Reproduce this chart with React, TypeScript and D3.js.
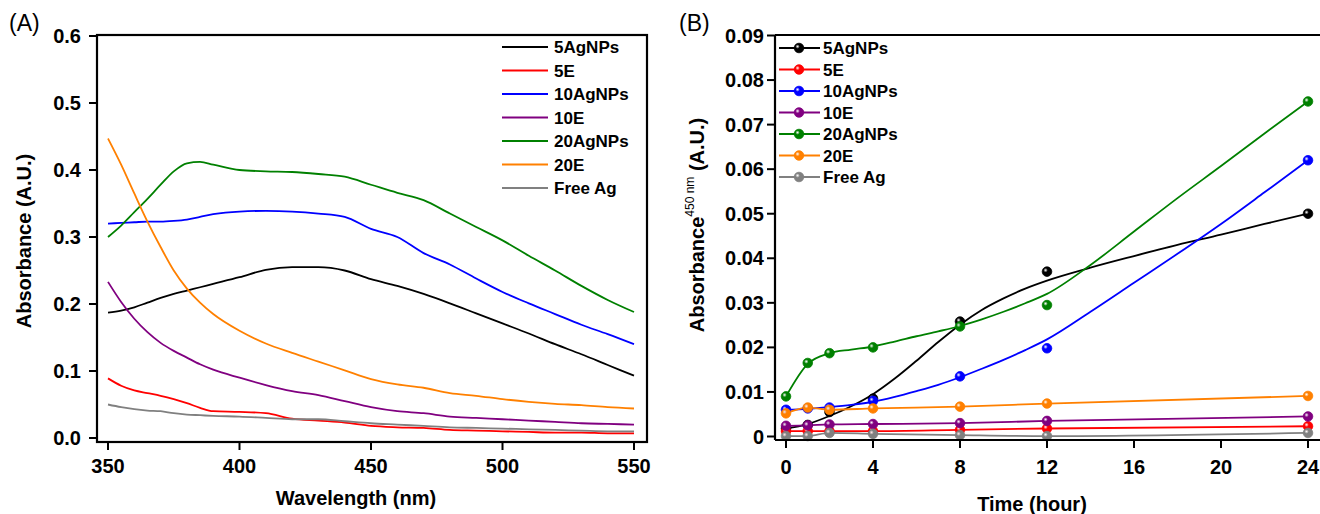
import React from 'react';
import * as d3 from 'd3';

// ---- panel A: UV-vis spectra ----
const wavelengths = [350, 355, 360, 365, 370, 375, 380, 385, 390, 400, 410, 420, 430, 440, 450, 460, 470, 480, 490, 500, 510, 520, 530, 540, 550];

const spec5Ag = [0.187, 0.19, 0.195, 0.202, 0.209, 0.215, 0.22, 0.225, 0.23, 0.24, 0.251, 0.255, 0.255, 0.25, 0.237, 0.227, 0.215, 0.201, 0.186, 0.171, 0.156, 0.14, 0.125, 0.109, 0.093];
const spec5E = [0.089, 0.078, 0.071, 0.067, 0.063, 0.058, 0.052, 0.045, 0.04, 0.039, 0.037, 0.029, 0.026, 0.023, 0.018, 0.016, 0.015, 0.012, 0.011, 0.01, 0.009, 0.008, 0.008, 0.007, 0.007];
const spec10Ag = [0.32, 0.321, 0.322, 0.323, 0.323, 0.324, 0.326, 0.33, 0.334, 0.338, 0.339, 0.338, 0.335, 0.33, 0.312, 0.3, 0.276, 0.259, 0.238, 0.218, 0.201, 0.185, 0.169, 0.155, 0.14];
const spec10E = [0.233, 0.203, 0.178, 0.158, 0.142, 0.13, 0.12, 0.11, 0.102, 0.09, 0.079, 0.07, 0.064, 0.055, 0.046, 0.04, 0.037, 0.032, 0.03, 0.028, 0.026, 0.024, 0.022, 0.021, 0.02];
const spec20Ag = [0.3, 0.317, 0.337, 0.357, 0.378, 0.398, 0.41, 0.412, 0.408, 0.4, 0.398, 0.397, 0.394, 0.39, 0.378, 0.366, 0.355, 0.335, 0.315, 0.295, 0.272, 0.25, 0.227, 0.206, 0.188];
const spec20E = [0.447, 0.408, 0.365, 0.323, 0.285, 0.25, 0.223, 0.202, 0.185, 0.16, 0.141, 0.127, 0.114, 0.101, 0.088, 0.08, 0.075, 0.067, 0.063, 0.058, 0.054, 0.051, 0.049, 0.046, 0.044];
const specFree = [0.05, 0.046, 0.043, 0.041, 0.04, 0.037, 0.035, 0.034, 0.033, 0.032, 0.03, 0.028, 0.028, 0.025, 0.022, 0.02, 0.018, 0.016, 0.015, 0.014, 0.013, 0.012, 0.011, 0.01, 0.01];

// ---- panel B: absorbance at 450 nm vs time ----
const hours = [0, 1, 2, 4, 8, 12, 24];
const pts5Ag = [0.0018, 0.0026, 0.0055, 0.0085, 0.0258, 0.037, 0.05];
const pts5E = [0.0012, 0.0012, 0.0012, 0.0012, 0.0015, 0.0018, 0.0023];
const pts10Ag = [0.006, 0.0063, 0.0065, 0.008, 0.0135, 0.0198, 0.062];
const pts10E = [0.0024, 0.0025, 0.0027, 0.0028, 0.003, 0.0035, 0.0045];
const pts20Ag = [0.009, 0.0165, 0.0187, 0.02, 0.0247, 0.0295, 0.0752];
const pts20E = [0.0052, 0.0065, 0.006, 0.0063, 0.0067, 0.0074, 0.0091];
const ptsFree = [0.0001, 0.0001, 0.0008, 0.0006, 0.0003, 0.0001, 0.0008];

// smooth fitted curves for the AgNPs series
const fitHours = [0, 1, 2, 3, 4, 5, 6, 7, 8, 9, 10, 11, 12, 14, 16, 18, 20, 22, 24];
const fit5Ag = [0.0018, 0.0028, 0.0046, 0.0068, 0.0095, 0.013, 0.017, 0.0212, 0.0251, 0.0284, 0.031, 0.0332, 0.035, 0.0379, 0.0405, 0.043, 0.0453, 0.0477, 0.05];
const fit10Ag = [0.006, 0.0062, 0.0066, 0.0071, 0.0078, 0.0089, 0.0102, 0.0116, 0.0133, 0.0152, 0.0172, 0.0194, 0.0218, 0.028, 0.0345, 0.041, 0.0477, 0.0548, 0.062];
const fit20Ag = [0.009, 0.0163, 0.0187, 0.0195, 0.0202, 0.0213, 0.0225, 0.0236, 0.0248, 0.0263, 0.028, 0.0299, 0.032, 0.0385, 0.046, 0.0535, 0.0607, 0.068, 0.0752];

const names = ['5AgNPs', '5E', '10AgNPs', '10E', '20AgNPs', '20E', 'Free Ag'];
const colors = ['#000000', '#ff0000', '#0000ff', '#800080', '#008000', '#ff8000', '#808080'];
const spectra = [spec5Ag, spec5E, spec10Ag, spec10E, spec20Ag, spec20E, specFree];
const timePts = [pts5Ag, pts5E, pts10Ag, pts10E, pts20Ag, pts20E, ptsFree];
const fits: (number[] | null)[] = [fit5Ag, null, fit10Ag, null, fit20Ag, null, null];

const xTicksA = [350, 400, 450, 500, 550];
const yTicksA = [0, 0.1, 0.2, 0.3, 0.4, 0.5, 0.6];
const xTicksB = [0, 4, 8, 12, 16, 20, 24];
const yTicksB = [0, 0.01, 0.02, 0.03, 0.04, 0.05, 0.06, 0.07, 0.08, 0.09];

const FONT = '"Liberation Sans", Arial, sans-serif';

export default function App() {
  // panel A frame
  const aL = 97, aR = 647, aT = 35, aB = 442;
  const xA = d3.scaleLinear().domain([350, 550]).range([108, 634]);
  const yA = d3.scaleLinear().domain([0, 0.6]).range([438, 36]);
  // panel B frame
  const bL = 775, bR = 1330, bT = 35, bB = 440;
  const xB = d3.scaleLinear().domain([0, 24]).range([786, 1308]);
  const yB = d3.scaleLinear().domain([0, 0.09]).range([436.5, 35.5]);

  const lineA = d3.line<number>()
    .x((_, i) => xA(wavelengths[i]))
    .y((d) => yA(d))
    .curve(d3.curveMonotoneX);

  const lineB = (xs: number[]) =>
    d3.line<number>()
      .x((_, i) => xB(xs[i]))
      .y((d) => yB(d))
      .curve(d3.curveMonotoneX);

  const tickLen = 8;

  return (
    <svg width={1320} height={514} style={{ position: 'absolute', left: 0, top: 0, background: '#fff' }} fontFamily={FONT}>
      <defs>
        {colors.map((c, i) => (
          <radialGradient key={i} id={`ball${i}`} cx="35%" cy="35%" r="65%">
            <stop offset="0%" stopColor="#ffffff" stopOpacity={0.9} />
            <stop offset="35%" stopColor={c} />
            <stop offset="100%" stopColor={c} />
          </radialGradient>
        ))}
      </defs>

      {/* ===== Panel A ===== */}
      <text x={9} y={31} fontSize={23}>(A)</text>
      {spectra.map((s, i) => (
        <path key={i} d={lineA(s) || ''} fill="none" stroke={colors[i]} strokeWidth={1.8} />
      ))}
      <rect x={aL} y={aT} width={aR - aL} height={aB - aT} fill="none" stroke="#000" strokeWidth={2.2} />
      {xTicksA.map((t) => (
        <g key={t}>
          <line x1={xA(t)} x2={xA(t)} y1={aB} y2={aB + tickLen} stroke="#000" strokeWidth={2} />
          <text x={xA(t)} y={473} textAnchor="middle" fontSize={20} fontWeight="bold">{t}</text>
        </g>
      ))}
      {yTicksA.map((t) => (
        <g key={t}>
          <line x1={aL - tickLen} x2={aL} y1={yA(t)} y2={yA(t)} stroke="#000" strokeWidth={2} />
          <text x={81} y={yA(t) + 7} textAnchor="end" fontSize={20} fontWeight="bold">{d3.format('.1f')(t)}</text>
        </g>
      ))}
      <text x={356} y={505} textAnchor="middle" fontSize={20} fontWeight="bold">Wavelength (nm)</text>
      <text transform="translate(31,241) rotate(-90)" textAnchor="middle" fontSize={20} fontWeight="bold">Absorbance (A.U.)</text>
      {names.map((n, i) => {
        const y = 47 + i * 23.5;
        return (
          <g key={n}>
            <line x1={502} x2={548} y1={y} y2={y} stroke={colors[i]} strokeWidth={2} />
            <text x={554} y={y + 6} fontSize={17} fontWeight="bold">{n}</text>
          </g>
        );
      })}

      {/* ===== Panel B ===== */}
      <text x={679} y={31} fontSize={23}>(B)</text>
      {timePts.map((p, i) => {
        const f = fits[i];
        const d = f ? lineB(fitHours)(f) : lineB(hours)(p);
        return <path key={i} d={d || ''} fill="none" stroke={colors[i]} strokeWidth={1.8} />;
      })}
      {timePts.map((p, i) => (
        <g key={i}>
          {p.map((v, j) => (
            <circle key={j} cx={xB(hours[j])} cy={yB(v)} r={4.8} fill={`url(#ball${i})`} stroke={colors[i]} strokeWidth={0.8} />
          ))}
        </g>
      ))}
      <line x1={bL} x2={bR} y1={bT} y2={bT} stroke="#000" strokeWidth={2.2} />
      <line x1={bL} x2={bR} y1={bB} y2={bB} stroke="#000" strokeWidth={2.2} />
      <line x1={bL} x2={bL} y1={bT} y2={bB} stroke="#000" strokeWidth={2.2} />
      {xTicksB.map((t) => (
        <g key={t}>
          <line x1={xB(t)} x2={xB(t)} y1={bB} y2={bB + tickLen} stroke="#000" strokeWidth={2} />
          <text x={xB(t)} y={474} textAnchor="middle" fontSize={20} fontWeight="bold">{t}</text>
        </g>
      ))}
      {yTicksB.map((t) => (
        <g key={t}>
          <line x1={bL - tickLen} x2={bL} y1={yB(t)} y2={yB(t)} stroke="#000" strokeWidth={2} />
          <text x={764} y={yB(t) + 7} textAnchor="end" fontSize={20} fontWeight="bold">{t === 0 ? '0' : t.toFixed(2)}</text>
        </g>
      ))}
      <text x={1032} y={511} textAnchor="middle" fontSize={20} fontWeight="bold">Time (hour)</text>
      <text transform="translate(704,225) rotate(-90)" textAnchor="middle" fontSize={20} fontWeight="bold">
        Absorbance
        <tspan fontSize={12} fontWeight="normal" dy={-10}>450 nm</tspan>
        <tspan dy={10}> (A.U.)</tspan>
      </text>
      {names.map((n, i) => {
        const y = 48 + i * 21.5;
        return (
          <g key={n}>
            <line x1={779} x2={820} y1={y} y2={y} stroke={colors[i]} strokeWidth={2} />
            <circle cx={799} cy={y} r={4.8} fill={`url(#ball${i})`} stroke={colors[i]} strokeWidth={0.8} />
            <text x={823} y={y + 6} fontSize={17} fontWeight="bold">{n}</text>
          </g>
        );
      })}
    </svg>
  );
}
